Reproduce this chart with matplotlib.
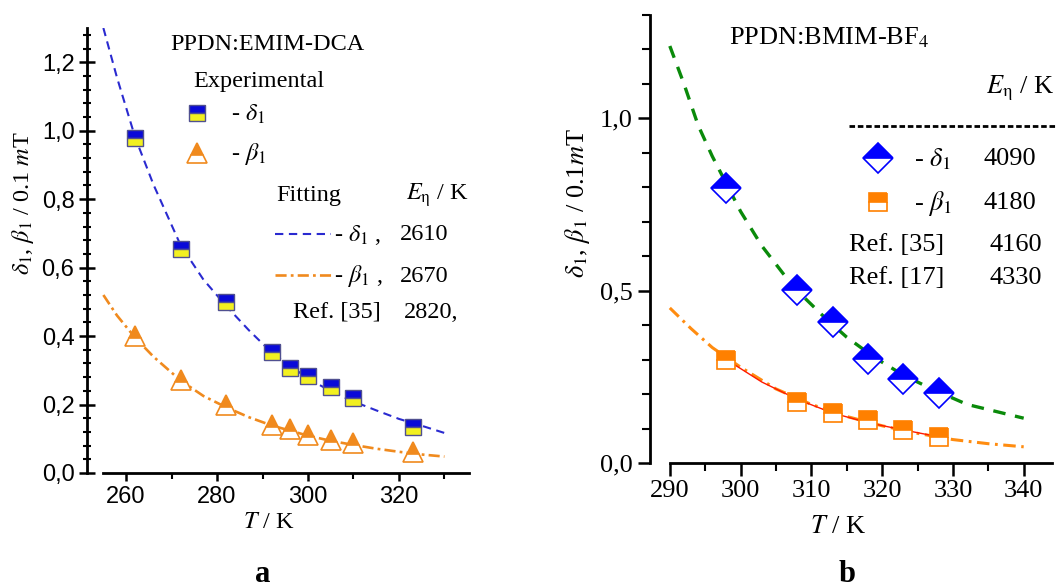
import matplotlib
matplotlib.use("Agg")
import matplotlib.pyplot as plt
from matplotlib.lines import Line2D
from matplotlib.ticker import MultipleLocator, FuncFormatter

plt.rcParams['font.family'] = ['Liberation Serif', 'DejaVu Serif']
plt.rcParams['mathtext.fontset'] = 'stix'
plt.rcParams['lines.scale_dashes'] = False

# ---- panel a: PPDN:EMIM-DCA ----
t_a = [262, 272, 282, 292, 296, 300, 305, 310, 323]
delta_a = [0.98, 0.655, 0.50, 0.353, 0.306, 0.283, 0.251, 0.219, 0.134]
beta_a = [0.40, 0.272, 0.199, 0.140, 0.128, 0.110, 0.096, 0.088, 0.062]

# fitted curves
fit_t_a = [255, 258, 262, 266, 272, 277, 282, 287, 292, 300, 305, 310, 315, 320, 325, 330]
fit_delta_a = [1.30, 1.155, 0.98, 0.843, 0.665, 0.565, 0.488, 0.417, 0.352, 0.276, 0.239,
               0.209, 0.183, 0.158, 0.138, 0.117]
fit_beta_a = [0.52, 0.46, 0.395, 0.34, 0.27, 0.225, 0.192, 0.163, 0.139, 0.109, 0.094,
              0.082, 0.071, 0.062, 0.054, 0.048]

# ---- panel b: PPDN:BMIM-BF4 ----
t_b = [298, 308, 313, 318, 323, 328]
delta_b = [0.797, 0.503, 0.41, 0.303, 0.245, 0.204]
beta_b = [0.30, 0.178, 0.144, 0.125, 0.096, 0.076]

fit_t_delta_b = [290, 292, 294, 296, 298, 300, 303, 306, 309, 312, 315, 319, 323, 327, 332, 336, 340]
fit_delta_b = [1.21, 1.10, 0.98, 0.89, 0.81, 0.73, 0.63, 0.55, 0.48, 0.42, 0.365, 0.305,
               0.255, 0.215, 0.17, 0.15, 0.13]
fit_t_beta_b = [290, 293, 296, 300, 305, 310, 315, 320, 325, 330, 335, 340]
fit_beta_b = [0.45, 0.39, 0.335, 0.278, 0.215, 0.17, 0.135, 0.108, 0.086, 0.068, 0.056, 0.047]
ref_t_b = [298, 303, 308, 313, 318, 323, 328]
ref_beta_b = [0.30, 0.235, 0.185, 0.145, 0.117, 0.096, 0.076]

W, H = 1057, 588
fig = plt.figure(figsize=(W / 100, H / 100), dpi=100)


def fx(x):
    return x / W


def fy(y):
    return 1 - y / H


comma = FuncFormatter(lambda v, p: f"{v:.1f}".replace('.', ','))
comma0 = FuncFormatter(lambda v, p: f"{v:.0f}")

BLUE_A = '#1a1ad0'
YELLOW_A = '#f2f020'
ORANGE_A = '#f08a1e'
FS_A = 17.5
FS_B = 19

# ================= panel a =================
ax = fig.add_axes([fx(87), fy(473), fx(469 - 87), (473 - 28) / H])
ax.plot(fit_t_a, fit_delta_a, color='#2a2ad0', lw=1.5, dashes=(6, 4))
ax.plot(fit_t_a, fit_beta_a, color=ORANGE_A, lw=1.9, dashes=(8, 3, 2, 3))
ax.plot(t_a, delta_a, ls='none', marker='s', ms=11, fillstyle='top',
        markerfacecolor='#0a0ad8', markerfacecoloralt=YELLOW_A, markeredgecolor='#505090', mew=1)
ax.plot(t_a, beta_a, ls='none', marker='^', ms=14, fillstyle='top',
        markerfacecolor=ORANGE_A, markerfacecoloralt='white', markeredgecolor=ORANGE_A, mew=1.2)

ax.set_xlim(251.4, 335.4)
ax.set_ylim(0, 1.3)
ax.spines['top'].set_visible(False)
ax.spines['right'].set_visible(False)
ax.spines['bottom'].set_bounds(255, 335.4)
ax.spines['left'].set_bounds(0, 1.3)
for s in ('left', 'bottom'):
    ax.spines[s].set_linewidth(2)
ax.xaxis.set_major_locator(MultipleLocator(20))
ax.xaxis.set_minor_locator(MultipleLocator(10))
ax.yaxis.set_major_locator(MultipleLocator(0.2))
ax.yaxis.set_minor_locator(MultipleLocator(0.04))
ax.yaxis.set_major_formatter(comma)
ax.tick_params(axis='y', which='major', direction='inout', length=11, width=1.8)
ax.tick_params(axis='y', which='minor', direction='inout', length=6, width=1.5)
ax.tick_params(axis='x', which='major', direction='out', length=6, width=1.8)
ax.tick_params(axis='x', which='minor', direction='out', length=4, width=1.5)
ax.set_xticks([260, 280, 300, 320])
ax.set_xticklabels(['260', '280', '300', '320'])
for lab in ax.get_xticklabels() + ax.get_yticklabels():
    lab.set_fontfamily('Liberation Sans')
    lab.set_fontsize(17)

fig.text(fx(23), fy(203), r'$\delta_1$, $\beta_1$ / 0.1 $m$T', rotation=90,
         ha='center', va='center', fontsize=FS_A)
fig.text(fx(269), fy(522), r'$T$ / K', ha='center', va='center', fontsize=FS_A)
fig.text(fx(267), fy(45), 'PPDN:EMIM-DCA', ha='center', va='center', fontsize=FS_A)
fig.text(fx(259), fy(82), 'Experimental', ha='center', va='center', fontsize=FS_A)

fig.add_artist(Line2D([fx(197)], [fy(113)], transform=fig.transFigure, ls='none', marker='s',
                      ms=11, fillstyle='top', markerfacecolor='#0a0ad8',
                      markerfacecoloralt=YELLOW_A, markeredgecolor='#505090', mew=1))
fig.add_artist(Line2D([fx(197)], [fy(153)], transform=fig.transFigure, ls='none', marker='^',
                      ms=14, fillstyle='top', markerfacecolor=ORANGE_A,
                      markerfacecoloralt='white', markeredgecolor=ORANGE_A, mew=1.2))
fig.text(fx(231), fy(114), r'- $\delta_1$', ha='left', va='center', fontsize=FS_A)
fig.text(fx(231), fy(154), r'- $\beta_1$', ha='left', va='center', fontsize=FS_A)

fig.text(fx(276), fy(195), 'Fitting', ha='left', va='center', fontsize=FS_A)
fig.text(fx(406), fy(195), r'$E_{\mathrm{\eta}}$ / K', ha='left', va='center', fontsize=FS_A)
fig.add_artist(Line2D([fx(275), fx(331)], [fy(234), fy(234)], transform=fig.transFigure,
                      color='#2a2ad0', lw=1.5, dashes=(6, 4)))
fig.add_artist(Line2D([fx(275), fx(331)], [fy(275), fy(275)], transform=fig.transFigure,
                      color=ORANGE_A, lw=1.9, dashes=(8, 3, 2, 3)))
fig.text(fx(334), fy(235), r'- $\delta_1$ ,', ha='left', va='center', fontsize=FS_A)
fig.text(fx(400), fy(235), '2610', ha='left', va='center', fontsize=FS_A)
fig.text(fx(334), fy(276), r'- $\beta_1$ ,', ha='left', va='center', fontsize=FS_A)
fig.text(fx(400), fy(276), '2670', ha='left', va='center', fontsize=FS_A)
fig.text(fx(293), fy(312), 'Ref. [35]', ha='left', va='center', fontsize=FS_A)
fig.text(fx(404), fy(312), '2820,', ha='left', va='center', fontsize=FS_A)

fig.text(fx(263), fy(575), 'a', ha='center', va='center', fontsize=22, fontweight='bold')

# ================= panel b =================
bx = fig.add_axes([fx(650), fy(463), fx(1052 - 650), (463 - 15) / H])
bx.plot(fit_t_delta_b, fit_delta_b, color='#0a8a0a', lw=2.4, dashes=(9, 7))
bx.plot(fit_t_beta_b, fit_beta_b, color='#ff8c10', lw=2.2, dashes=(9, 4, 2, 4))
bx.plot(ref_t_b, ref_beta_b, color='#ff1a00', lw=1)
bx.plot(t_b, delta_b, ls='none', marker='D', ms=15, fillstyle='top',
        markerfacecolor='#0000ff', markerfacecoloralt='white', markeredgecolor='#0000ff', mew=1.2)
bx.plot(t_b, beta_b, ls='none', marker='s', ms=13, fillstyle='top',
        markerfacecolor='#ff8000', markerfacecoloralt='white', markeredgecolor='#ff8000', mew=1.2)

bx.set_xlim(287.2, 344)
bx.set_ylim(0, 1.3)
bx.spines['top'].set_visible(False)
bx.spines['right'].set_visible(False)
bx.spines['bottom'].set_bounds(290, 344)
for s in ('left', 'bottom'):
    bx.spines[s].set_linewidth(2)
bx.xaxis.set_major_locator(MultipleLocator(10))
bx.xaxis.set_minor_locator(MultipleLocator(5))
bx.yaxis.set_major_locator(MultipleLocator(0.5))
bx.yaxis.set_minor_locator(MultipleLocator(0.1))
bx.yaxis.set_major_formatter(comma)
bx.set_xticks([290, 300, 310, 320, 330, 340])
bx.tick_params(axis='both', which='major', direction='out', length=9, width=1.8, labelsize=19)
bx.tick_params(axis='both', which='minor', direction='out', length=6, width=1.5)

fig.text(fx(577), fy(203), r'$\delta_1$, $\beta_1$ / 0.1$m$T', rotation=90,
         ha='center', va='center', fontsize=FS_B)
fig.text(fx(838), fy(527), r'$T$ / K', ha='center', va='center', fontsize=FS_B)
fig.text(fx(729), fy(38), r'PPDN:BMIM-BF$_4$', ha='left', va='center', fontsize=FS_B)
fig.text(fx(986), fy(88), r'$E_{\mathrm{\eta}}$ / K', ha='left', va='center', fontsize=FS_B)
fig.add_artist(Line2D([fx(849), fx(1057)], [fy(126), fy(126)], transform=fig.transFigure,
                      color='black', lw=2, dashes=(4, 2)))
fig.add_artist(Line2D([fx(878)], [fy(158)], transform=fig.transFigure, ls='none', marker='D',
                      ms=15, fillstyle='top', markerfacecolor='#0000ff',
                      markerfacecoloralt='white', markeredgecolor='#0000ff', mew=1.2))
fig.add_artist(Line2D([fx(878)], [fy(202)], transform=fig.transFigure, ls='none', marker='s',
                      ms=13, fillstyle='top', markerfacecolor='#ff8000',
                      markerfacecoloralt='white', markeredgecolor='#ff8000', mew=1.2))
fig.text(fx(914), fy(159), r'- $\delta_1$', ha='left', va='center', fontsize=FS_B)
fig.text(fx(983), fy(159), '4090', ha='left', va='center', fontsize=FS_B)
fig.text(fx(914), fy(203), r'- $\beta_1$', ha='left', va='center', fontsize=FS_B)
fig.text(fx(983), fy(203), '4180', ha='left', va='center', fontsize=FS_B)
fig.text(fx(849), fy(245), 'Ref. [35]', ha='left', va='center', fontsize=FS_B)
fig.text(fx(989), fy(245), '4160', ha='left', va='center', fontsize=FS_B)
fig.text(fx(849), fy(278), 'Ref. [17]', ha='left', va='center', fontsize=FS_B)
fig.text(fx(989), fy(278), '4330', ha='left', va='center', fontsize=FS_B)

fig.text(fx(847), fy(575), 'b', ha='center', va='center', fontsize=22, fontweight='bold')

fig.savefig('out.png', dpi=100)
